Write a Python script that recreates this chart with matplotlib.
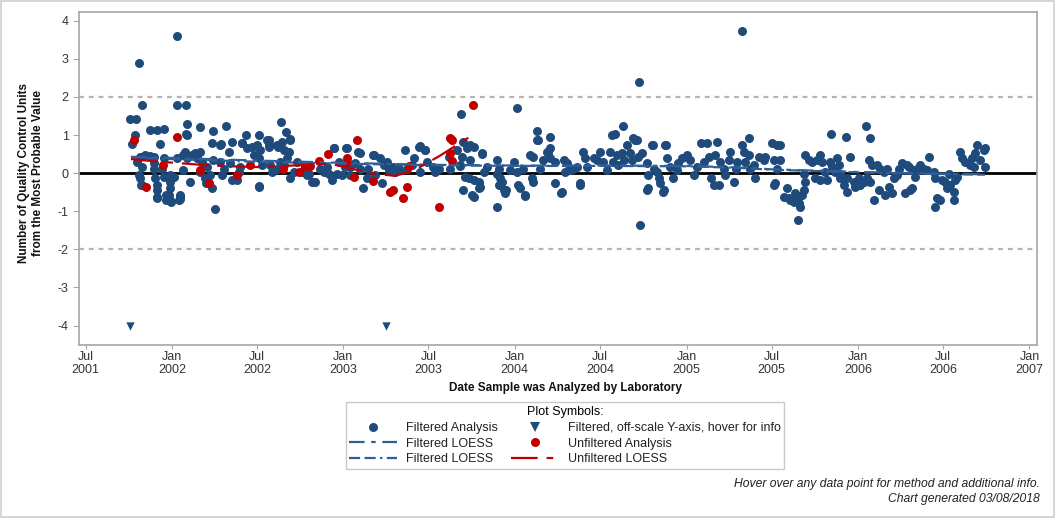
import matplotlib
matplotlib.use("Agg")
import matplotlib.pyplot as plt
import matplotlib.dates as mdates
import matplotlib.patches as mpatches
from matplotlib.lines import Line2D
import pandas as pd

plt.rcParams['font.family'] = ['Liberation Sans', 'DejaVu Sans']
plt.rcParams['axes.unicode_minus'] = False

# filtered analyses: decimal year of analysis, QC units from most probable value
filt_yr = [
    2001.757, 2001.792, 2001.805, 2001.822, 2001.782, 2001.766, 2001.815, 2001.844, 2001.873, 2001.795,
    2001.824, 2001.805, 2001.815, 2001.824, 2001.892, 2001.892, 2001.892, 2001.902, 2001.912, 2001.912,
    2001.912, 2001.951, 2001.941, 2001.951, 2001.990, 2001.990, 2001.990, 2001.980, 2001.990, 2001.873,
    2001.912, 2001.951, 2001.927, 2001.821, 2001.912, 2001.966, 2001.966, 2001.992,
    2002.009, 2002.048, 2002.038, 2002.028, 2002.067, 2002.077, 2002.087, 2002.116, 2002.135, 2002.165,
    2002.145, 2002.067, 2002.106, 2002.165, 2002.174, 2002.203, 2002.194, 2002.223, 2002.233, 2002.242,
    2002.281, 2002.291, 2002.301, 2002.330, 2002.340, 2002.349, 2002.378, 2002.398, 2002.388, 2002.233,
    2002.281, 2002.349, 2002.408, 2002.437, 2002.466, 2002.495, 2002.514, 2002.476, 2002.505, 2002.524,
    2002.553, 2002.563, 2002.573, 2002.583, 2002.505, 2002.612, 2002.641, 2002.651, 2002.689, 2002.680,
    2002.670, 2002.631, 2002.612, 2002.651, 2002.689, 2002.709, 2002.728, 2002.757, 2002.777, 2002.796,
    2002.816, 2002.835, 2002.787, 2002.864, 2002.884, 2002.903, 2002.913, 2002.932, 2002.942, 2002.971,
    2002.962, 2002.991, 2002.027, 2002.032, 2002.079, 2002.087, 2002.083, 2002.085, 2002.161, 2002.242,
    2002.283, 2002.316, 2002.429, 2002.410, 2002.505, 2002.563, 2002.563, 2002.637, 2002.662, 2002.690,
    2002.621, 2002.942, 2002.048, 2002.048, 2002.252, 2002.199, 2002.505,
    2003.020, 2003.010, 2003.039, 2003.039, 2003.068, 2003.088, 2003.098, 2003.117, 2003.137, 2003.146,
    2003.175, 2003.185, 2003.214, 2003.234, 2003.253, 2003.263, 2003.292, 2003.302, 2003.321, 2003.331,
    2003.360, 2003.370, 2003.399, 2003.409, 2003.438, 2003.448, 2003.477, 2003.486, 2003.016, 2003.094,
    2003.179, 2003.224, 2003.525, 2003.535, 2003.555, 2003.700, 2003.720, 2003.739, 2003.759, 2003.691,
    2003.739, 2003.681, 2003.662, 2003.623, 2003.710, 2003.730, 2003.759, 2003.788, 2003.798, 2003.788,
    2003.700, 2003.749, 2003.759, 2003.807, 2003.817, 2003.837, 2003.895, 2003.905, 2003.895, 2003.914,
    2003.924, 2003.905, 2003.934, 2003.943, 2003.973, 2003.992, 2003.688, 2003.898, 2003.950, 2003.613,
    2003.677, 2003.811, 2003.448, 2003.477,
    2004.011, 2004.021, 2004.031, 2004.060, 2004.050, 2004.089, 2004.109, 2004.099, 2004.109, 2004.138,
    2004.148, 2004.167, 2004.186, 2004.196, 2004.206, 2004.206, 2004.235, 2004.235, 2004.274, 2004.284,
    2004.293, 2004.303, 2004.323, 2004.342, 2004.361, 2004.381, 2004.400, 2004.410, 2004.420, 2004.459,
    2004.478, 2004.497, 2004.517, 2004.536, 2004.556, 2004.565, 2004.575, 2004.595, 2004.604, 2004.624,
    2004.634, 2004.653, 2004.673, 2004.682, 2004.702, 2004.721, 2004.741, 2004.770, 2004.779, 2004.779,
    2004.799, 2004.809, 2004.828, 2004.838, 2004.847, 2004.867, 2004.877, 2004.886, 2004.906, 2004.925,
    2004.945, 2004.954, 2004.974, 2004.015, 2004.132, 2004.132, 2004.207, 2004.633, 2004.692, 2004.711,
    2004.726, 2004.730, 2004.061, 2004.271, 2004.382, 2004.773, 2004.866, 2004.804, 2004.880, 2004.585,
    2005.003, 2005.022, 2005.042, 2005.061, 2005.081, 2005.100, 2005.119, 2005.129, 2005.139, 2005.158,
    2005.168, 2005.178, 2005.188, 2005.197, 2005.217, 2005.226, 2005.246, 2005.255, 2005.275, 2005.285,
    2005.294, 2005.323, 2005.362, 2005.323, 2005.333, 2005.342, 2005.371, 2005.391, 2005.400, 2005.362,
    2005.420, 2005.449, 2005.459, 2005.498, 2005.527, 2005.546, 2005.507, 2005.527, 2005.546, 2005.517,
    2005.507, 2005.566, 2005.585, 2005.595, 2005.605, 2005.624, 2005.643, 2005.653, 2005.663, 2005.634,
    2005.673, 2005.682, 2005.692, 2005.682, 2005.692, 2005.712, 2005.731, 2005.760, 2005.780, 2005.789,
    2005.750, 2005.780, 2005.809, 2005.818, 2005.838, 2005.848, 2005.867, 2005.877, 2005.886, 2005.896,
    2005.896, 2005.916, 2005.935, 2005.955, 2005.935, 2005.974, 2005.984, 2005.648, 2005.844, 2005.927,
    2006.003, 2006.013, 2006.032, 2006.061, 2006.052, 2006.071, 2006.091, 2006.081, 2006.110, 2006.120,
    2006.130, 2006.149, 2006.168, 2006.159, 2006.178, 2006.198, 2006.207, 2006.227, 2006.236, 2006.256,
    2006.275, 2006.285, 2006.295, 2006.304, 2006.314, 2006.324, 2006.334, 2006.343, 2006.363, 2006.382,
    2006.402, 2006.411, 2006.441, 2006.450, 2006.460, 2006.450, 2006.479, 2006.489, 2006.509, 2006.518,
    2006.528, 2006.538, 2006.557, 2006.567, 2006.577, 2006.557, 2006.596, 2006.606, 2006.625, 2006.654,
    2006.664, 2006.684, 2006.693, 2006.713, 2006.732, 2006.742, 2006.674, 2006.044, 2006.067, 2006.738,
]
filt_val = [
    1.41, 1.43, 2.90, 1.78, 1.00, 0.76, 0.43, 0.47, 0.46, 0.30,
    0.17, -0.05, -0.14, -0.31, 0.43, 0.26, 0.12, -0.14, -0.31, -0.44,
    -0.62, 0.39, 0.12, -0.09, -0.05, -0.23, -0.40, -0.58, -0.71, 1.13,
    1.13, 1.15, 0.76, -0.31, -0.66, -0.58, -0.71, -0.75,
    -0.09, -0.62, -0.71, 0.39, 0.47, 0.56, 0.39, 0.47, 0.52, 0.56,
    0.39, 0.08, -0.23, 0.04, 0.30, 0.17, -0.14, -0.05, -0.40, 0.34,
    0.30, -0.05, 0.12, 0.56, 0.26, -0.18, -0.18, 0.17, 0.04, 0.78,
    0.74, 0.82, 0.78, 0.65, 0.69, 0.74, 0.60, 0.47, 0.39, 0.21,
    0.87, 0.69, 0.21, 0.04, -0.36, 0.74, 0.82, 0.60, 0.90, 0.56,
    0.39, 0.30, 0.12, 0.21, -0.14, 0.04, 0.30, 0.04, 0.17, -0.01,
    -0.23, -0.23, -0.05, 0.12, 0.04, 0.17, -0.01, -0.18, 0.65, 0.30,
    -0.01, -0.05, 3.61, 1.78, 1.78, 1.30, 1.04, 1.00, 1.20, 1.10,
    0.76, 1.23, 1.01, 0.78, 0.99, 0.88, 0.76, 1.33, 1.09, 0.88,
    0.69, 0.67, -0.58, -0.68, -0.95, -0.27, -0.34,
    0.65, 0.17, -0.05, 0.17, 0.26, 0.56, 0.12, -0.40, -0.14, 0.12,
    0.47, -0.05, 0.39, 0.21, 0.30, 0.08, 0.17, 0.04, 0.17, 0.08,
    0.60, 0.12, 0.21, 0.39, 0.69, 0.04, 0.60, 0.30, 0.67, 0.53,
    0.48, -0.27, 0.17, 0.04, 0.12, 0.82, 0.65, 0.74, 0.69, 0.43,
    0.34, 0.21, 0.60, 0.12, -0.09, -0.14, -0.18, -0.23, -0.36, -0.40,
    -0.44, -0.58, -0.62, 0.52, 0.04, 0.17, 0.34, 0.12, -0.01, -0.14,
    -0.23, -0.31, -0.44, -0.53, 0.08, 0.30, 1.54, -0.88, -0.45, 0.43,
    0.19, 0.49, 0.72, 0.62,
    0.04, -0.31, -0.40, -0.58, 0.12, 0.47, 0.43, -0.14, -0.23, 0.87,
    0.12, 0.34, 0.56, 0.52, 0.65, 0.39, 0.30, -0.27, -0.49, 0.34,
    0.04, 0.26, 0.08, 0.12, 0.17, -0.27, 0.56, 0.39, 0.17, 0.39,
    0.34, 0.56, 0.30, 0.08, 0.56, 1.00, 0.30, 0.47, 0.21, 0.52,
    0.34, 0.74, 0.52, 0.34, 0.87, 0.43, 0.52, 0.26, -0.05, -0.40,
    0.74, 0.12, 0.04, -0.14, -0.27, -0.44, 0.74, 0.39, 0.17, -0.14,
    0.08, 0.26, 0.39, 1.72, 1.10, 0.86, 0.94, 1.23, 0.92, 0.86,
    2.38, -1.35, -0.60, -0.51, -0.30, -0.43, -0.49, 0.73, 0.75, 1.02,
    0.47, 0.34, -0.05, 0.17, 0.78, 0.30, 0.78, 0.43, -0.14, -0.31,
    0.47, 0.82, -0.31, 0.30, 0.12, -0.05, 0.34, 0.56, -0.23, 0.12,
    0.30, 3.73, 0.92, 0.74, 0.55, 0.30, 0.12, 0.21, -0.14, 0.47,
    0.43, 0.34, 0.43, 0.78, 0.74, 0.74, 0.34, 0.12, 0.34, -0.27,
    -0.31, -0.62, -0.40, -0.66, -0.71, -0.75, -0.62, -0.79, -0.88, -0.53,
    -0.58, -0.44, -0.23, -0.01, 0.47, 0.34, 0.30, 0.34, 0.47, 0.30,
    -0.14, -0.18, 0.04, -0.18, 0.30, 0.17, 0.04, 0.39, 0.21, -0.01,
    -0.14, -0.31, -0.49, 0.43, -0.14, -0.23, -0.36, -1.22, 1.04, 0.94,
    -0.14, -0.31, -0.23, 0.34, -0.14, -0.23, -0.71, 0.21, 0.21, -0.44,
    0.12, 0.04, 0.12, -0.58, -0.36, -0.53, -0.14, -0.05, 0.12, 0.26,
    -0.53, 0.21, 0.17, -0.44, -0.40, 0.08, -0.09, 0.12, 0.21, 0.12,
    0.08, 0.43, 0.04, -0.14, -0.66, -0.88, -0.71, -0.18, -0.23, -0.40,
    -0.01, -0.31, -0.49, -0.18, -0.09, -0.71, 0.56, 0.39, 0.30, 0.21,
    0.39, 0.52, 0.74, 0.34, 0.60, 0.17, 0.17, 1.23, 0.92, 0.65,
]

# filtered values beyond the y-axis range (drawn at -4)
offscale_yr = [2001.757, 2003.249]
offscale_val = [-4.0, -4.0]

# unfiltered analyses
unf_yr = [2001.776, 2002.027, 2001.850, 2001.945, 2002.161, 2002.213, 2002.379, 2002.452, 2002.650, 2002.738,
          2002.773, 2002.806, 2002.855, 2002.907, 2003.020, 2003.020, 2003.080, 2003.059, 2003.175, 2003.272,
          2003.290, 2003.350, 2003.370, 2003.382, 2003.560, 2003.622, 2003.636, 2003.622, 2003.636, 2003.758]
unf_val = [0.87, 0.96, -0.35, 0.21, 0.08, -0.27, -0.05, 0.22, 0.10, 0.02,
           0.18, 0.18, 0.32, 0.51, 0.39, 0.30, 0.87, -0.11, -0.21, -0.49,
           -0.43, -0.66, -0.35, 0.19, -0.90, 0.91, 0.87, 0.53, 0.31, 1.78]

# LOESS fits
loess1_yr = [2001.76, 2002.0, 2002.5, 2003.0, 2003.5, 2004.0, 2004.5, 2005.0, 2005.3, 2005.5, 2005.8, 2006.0, 2006.3, 2006.74]
loess1_val = [0.43, 0.40, 0.33, 0.27, 0.22, 0.20, 0.20, 0.19, 0.15, 0.10, 0.06, 0.03, 0.00, -0.03]
loess2_yr = [2001.76, 2002.0, 2002.5, 2003.0, 2003.5, 2004.0, 2004.5, 2005.0, 2005.3, 2005.5, 2005.8, 2006.0, 2006.3, 2006.74]
loess2_val = [0.41, 0.37, 0.30, 0.25, 0.21, 0.19, 0.19, 0.18, 0.14, 0.09, 0.05, 0.02, -0.01, -0.04]
unf_loess_yr = [2001.76, 2001.9, 2002.05, 2002.2, 2002.35, 2002.5, 2002.65, 2002.8, 2002.92, 2003.03,
                2003.15, 2003.3, 2003.4, 2003.45, 2003.56, 2003.62, 2003.76]
unf_loess_val = [0.37, 0.31, 0.26, 0.21, 0.18, 0.16, 0.19, 0.22, 0.25, 0.14,
                 0.0, -0.07, 0.05, 0.17, 0.45, 0.62, 1.02]

BLUE = '#1f4a7c'
LINE_BLUE = '#2f5f98'
RED = '#c00000'


def to_dates(years):
    out = []
    for y in years:
        yr = int(y)
        out.append(pd.Timestamp(yr, 1, 1) + pd.Timedelta(days=(y - yr) * 365.25))
    return out


fig = plt.figure(figsize=(10.56, 5.18), dpi=100)
fig.patches.append(mpatches.Rectangle((0.001, 0.002), 0.997, 0.996, transform=fig.transFigure,
                                      fill=False, edgecolor='#cfcfcf', linewidth=1.2))
ax = fig.add_axes([79 / 1056, 1 - 345 / 518, (1037 - 79) / 1056, (345 - 12) / 518])

ax.axhline(0, color='black', linewidth=2, zorder=1)
for lvl in (2, -2):
    ax.axhline(lvl, color='#b4b4b4', linewidth=1.6, dashes=(2.2, 2.2), zorder=1)

ax.scatter(to_dates(filt_yr), filt_val, s=42, color=BLUE, linewidths=0, zorder=3)
ax.scatter(to_dates(offscale_yr), offscale_val, s=36, marker='v', color=BLUE, linewidths=0, zorder=3)
ax.scatter(to_dates(unf_yr), unf_val, s=42, color=RED, linewidths=0, zorder=4)

ax.plot(to_dates(loess1_yr), loess1_val, color=LINE_BLUE, linewidth=1.6, dashes=(7, 3, 2, 3), zorder=5)
ax.plot(to_dates(loess2_yr), loess2_val, color=LINE_BLUE, linewidth=1.6, dashes=(5, 2, 5, 2, 1, 2), zorder=5)
ax.plot(to_dates(unf_loess_yr), unf_loess_val, color=RED, linewidth=1.6, dashes=(12, 4, 3, 4), zorder=6)

ax.set_xlim(pd.Timestamp(2001, 6, 17), pd.Timestamp(2007, 1, 17))
ax.set_ylim(-4.51, 4.23)
ax.set_yticks(range(-4, 5))
ax.xaxis.set_major_locator(mdates.MonthLocator(bymonth=[1, 7]))
ax.xaxis.set_major_formatter(mdates.DateFormatter('%b\n%Y'))

for sp in ax.spines.values():
    sp.set_color('#a6a6a6')
    sp.set_linewidth(1.2)
ax.tick_params(axis='both', colors='#a6a6a6', labelcolor='#333333', labelsize=9, length=4)
ax.tick_params(axis='x', pad=1, length=3)

fig.text(0.029, 0.666, 'Number of Quality Control Units\nfrom the Most Probable Value',
         rotation=90, ha='center', va='center', fontsize=8.5, fontweight='bold', color='#111111')
fig.text(0.535, 0.251, 'Date Sample was Analyzed by Laboratory', ha='center', va='center',
         fontsize=8.5, fontweight='bold', color='#111111')

handles = [
    Line2D([], [], linestyle='none', marker='o', markersize=6.5, color=BLUE, markeredgewidth=0),
    Line2D([], [], color=LINE_BLUE, linewidth=1.6, dashes=(7, 3, 2, 3)),
    Line2D([], [], color=LINE_BLUE, linewidth=1.6, dashes=(5, 2, 5, 2, 1, 2)),
    Line2D([], [], linestyle='none', marker='v', markersize=6.5, color=BLUE, markeredgewidth=0),
    Line2D([], [], linestyle='none', marker='o', markersize=6.5, color=RED, markeredgewidth=0),
    Line2D([], [], color=RED, linewidth=1.6, dashes=(12, 4, 3, 4)),
]
labels = ['Filtered Analysis', 'Filtered LOESS', 'Filtered LOESS',
          'Filtered, off-scale Y-axis, hover for info', 'Unfiltered Analysis', 'Unfiltered LOESS']
leg = fig.legend(handles, labels, ncol=2, loc='upper center', bbox_to_anchor=(0.535, 0.223),
                 title='Plot Symbols:', fontsize=9, title_fontsize=9, frameon=True, fancybox=False,
                 edgecolor='#bdbdbd', handlelength=3.8, handletextpad=0.7, columnspacing=1.1,
                 labelspacing=0.3, borderpad=0.3, borderaxespad=0)
leg.get_frame().set_linewidth(1.0)
for t in leg.get_texts():
    t.set_color('#222222')

fig.text(0.985, 0.066, 'Hover over any data point for method and additional info.',
         ha='right', va='center', fontsize=8.75, style='italic', color='#222222')
fig.text(0.985, 0.037, 'Chart generated 03/08/2018',
         ha='right', va='center', fontsize=8.75, style='italic', color='#222222')

fig.savefig('out.png', dpi=100)
